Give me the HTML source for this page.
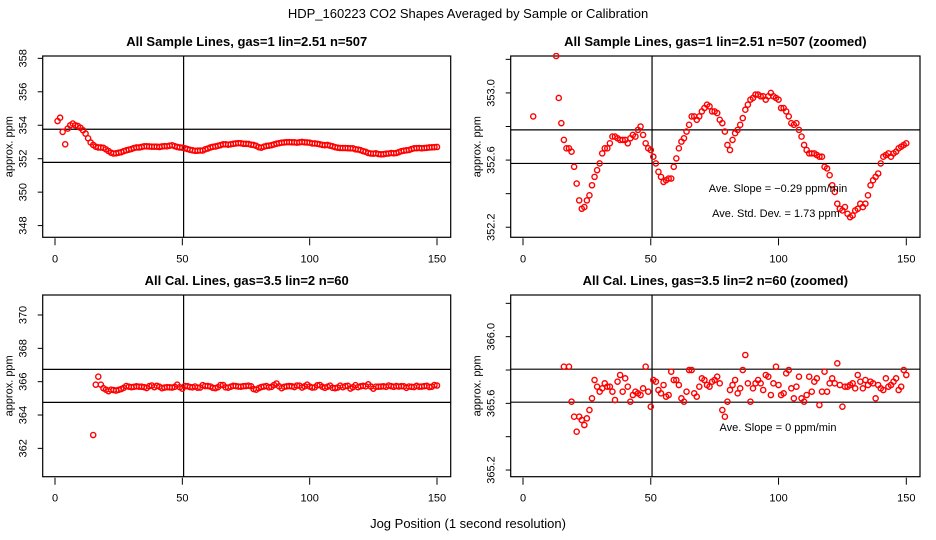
<!DOCTYPE html>
<html><head><meta charset="utf-8">
<style>
html,body{margin:0;padding:0;background:#fff;width:936px;height:540px;overflow:hidden;}
svg{display:block;font-family:"Liberation Sans",sans-serif;}
</style></head>
<body>
<svg id="chart" width="936" height="540" viewBox="0 0 936 540" xmlns="http://www.w3.org/2000/svg">
<rect x="0" y="0" width="936" height="540" fill="#fff"/>
<text x="468" y="18" text-anchor="middle" font-size="13">HDP_160223  CO2 Shapes Averaged by Sample or Calibration</text>
<text x="468" y="528" text-anchor="middle" font-size="13">Jog Position (1 second resolution)</text>
</svg>
<script>
// ---- data ----
const sampleX = [];
for (let i = 1; i <= 150; i++) sampleX.push(i);
const sampleY = [354.25,354.45,353.6,352.86,353.8,354.0,354.1,354.0,353.95,353.85,353.7,353.5,353.22,352.97,352.82,352.72,352.67,352.67,352.65,352.56,
352.46,352.36,352.31,352.32,352.36,352.39,352.45,352.5,352.54,352.58,352.64,352.67,352.67,352.7,352.74,352.74,352.73,352.72,352.72,352.72,
352.7,352.73,352.75,352.74,352.78,352.8,352.75,352.7,352.67,352.66,352.62,352.58,352.53,352.5,352.47,352.48,352.49,352.49,352.56,352.61,
352.67,352.71,352.73,352.77,352.81,352.86,352.86,352.84,352.86,352.89,352.91,352.93,352.92,352.89,352.89,352.88,352.84,352.82,352.77,352.69,
352.66,352.72,352.76,352.78,352.81,352.85,352.9,352.93,352.96,352.97,352.99,352.99,352.98,352.98,352.96,352.98,353.0,352.98,352.97,352.96,
352.91,352.91,352.89,352.86,352.82,352.81,352.82,352.78,352.74,352.69,352.66,352.64,352.64,352.64,352.63,352.62,352.62,352.56,352.55,352.51,
352.45,352.41,352.34,352.31,352.3,352.32,352.28,352.26,352.27,352.3,352.31,352.34,352.32,352.34,352.39,352.45,352.48,352.5,352.52,352.58,
352.62,352.63,352.64,352.62,352.64,352.65,352.67,352.68,352.69,352.7];
const calX = [];
for (let i = 15; i <= 150; i++) calX.push(i);
const calY = [362.8,365.82,366.3,365.82,365.61,365.52,365.43,365.52,365.5,365.47,365.51,365.56,365.63,365.74,365.7,365.67,365.69,365.72,365.7,365.7,
365.67,365.62,365.73,365.77,365.67,365.75,365.7,365.61,365.65,365.67,365.66,365.65,365.69,365.82,365.67,365.58,365.74,365.73,365.68,365.66,
365.71,365.64,365.65,365.79,365.74,365.74,365.71,365.63,365.61,365.67,365.8,365.8,365.66,365.64,365.7,365.75,365.74,365.71,365.7,365.73,
365.74,365.76,365.72,365.56,365.52,365.61,365.68,365.71,365.74,365.66,365.69,365.8,365.89,365.72,365.61,365.69,365.72,365.74,365.72,365.68,
365.77,365.76,365.65,365.72,365.82,365.71,365.65,365.66,365.78,365.8,365.69,365.63,365.7,365.76,365.63,365.61,365.65,365.76,365.67,365.73,
365.75,365.59,365.67,365.79,365.67,365.72,365.75,365.72,365.84,365.71,365.58,365.7,365.7,365.71,365.72,365.69,365.77,365.73,365.69,365.74,
365.71,365.73,365.72,365.63,365.71,365.69,365.68,365.75,365.7,365.71,365.73,365.75,365.68,365.7,365.8,365.77];
const xTicks = [0, 50, 100, 150];
const p1Ticks = [348, 350, 352, 354, 356, 358];
const p2Ticks = [352.2, 352.4, 352.6, 352.8, 353.0, 353.2];
const p2Labels = [352.2, 352.6, 353.0];
const p3Ticks = [362, 364, 366, 368, 370];
const p4Ticks = [365.2, 365.4, 365.6, 365.8, 366.0, 366.2];
const p4Labels = [365.2, 365.6, 366.0];
const p1HLines = [353.76, 351.78];
const p2HLines = [352.78, 352.58];
const p3HLines = [366.74, 364.76];
const p4HLines = [365.805, 365.607];
const vLine = 50.5;

const NS = 'http://www.w3.org/2000/svg';
const svg = document.getElementById('chart');
function mk(tag, attrs, parent) {
  const e = document.createElementNS(NS, tag);
  for (const k in attrs) e.setAttribute(k, attrs[k]);
  (parent || svg).appendChild(e);
  return e;
}

const panels = [
  {id:'p1', title:'All Sample Lines, gas=1 lin=2.51 n=507', L:42.7, R:450.7, T:56, B:237.3,
   ymin:347.3, ymax:358.14, ticks:p1Ticks, labels:p1Ticks, fmt:v=>String(v), h:p1HLines, xs:sampleX, ys:sampleY, txt:[]},
  {id:'p2', title:'All Sample Lines, gas=1 lin=2.51 n=507 (zoomed)', L:510.7, R:920, T:56, B:237.3,
   ymin:352.14, ymax:353.22, ticks:p2Ticks, labels:p2Labels, fmt:v=>v.toFixed(1), h:p2HLines, xs:sampleX, ys:sampleY,
   txt:[['Ave. Slope =  \u22120.29  ppm/min',778,192],['Ave. Std. Dev. =  1.73  ppm',776,217]]},
  {id:'p3', title:'All Cal. Lines, gas=3.5 lin=2 n=60', L:42.7, R:450.7, T:295, B:476.7,
   ymin:360.3, ymax:371.2, ticks:p3Ticks, labels:p3Ticks, fmt:v=>String(v), h:p3HLines, xs:calX, ys:calY, txt:[]},
  {id:'p4', title:'All Cal. Lines, gas=3.5 lin=2 n=60 (zoomed)', L:510.7, R:920, T:295, B:476.7,
   ymin:365.16, ymax:366.25, ticks:p4Ticks, labels:p4Labels, fmt:v=>v.toFixed(1), h:p4HLines, xs:calX, ys:calY,
   txt:[['Ave. Slope =  0  ppm/min',778,431]]}
];

panels.forEach(p => {
  const x0 = p.L + 12.3, x150 = p.R - 13.7;
  const sx = v => x0 + (x150 - x0) * v / 150;
  const sy = v => p.B - (v - p.ymin) / (p.ymax - p.ymin) * (p.B - p.T);
  const g = mk('g', {});
  
  
  const clipId = 'clip-' + p.id;
  const cp = mk('clipPath', {id: clipId}, g);
  mk('rect', {x: p.L - 3, y: p.T - 3, width: p.R - p.L + 6, height: p.B - p.T + 6}, cp);

  const t = mk('text', {x: (p.L + p.R) / 2, y: p.T - 10, 'text-anchor': 'middle', 'font-size': 13, 'font-weight': 'bold'}, g);
  t.textContent = p.title;
  
  

  const yl = mk('text', {x: 0, y: 0, 'text-anchor': 'middle', 'font-size': 11, transform: 'translate(' + (p.L - 30) + ',' + ((p.T + p.B) / 2) + ') rotate(-90)'}, g);
  yl.textContent = 'approx. ppm';
  
  

  p.ticks.forEach(v => {
    const y = sy(v);
    const tk = mk('line', {x1: p.L - 5, x2: p.L, y1: y, y2: y, stroke: '#000', 'stroke-width': 1}, g);
    
    
  });
  p.labels.forEach(v => {
    const y = sy(v);
    const lb = mk('text', {x: 0, y: 0, 'text-anchor': 'middle', 'font-size': 11, transform: 'translate(' + (p.L - 16) + ',' + y + ') rotate(-90)'}, g);
    lb.textContent = p.fmt(v);
    
    
  });
  xTicks.forEach(v => {
    const x = sx(v);
    const tk = mk('line', {x1: x, x2: x, y1: p.B + 1, y2: p.B + 8, stroke: '#000', 'stroke-width': 1}, g);
    
    
    const lb = mk('text', {x: x, y: p.B + 25, 'text-anchor': 'middle', 'font-size': 11}, g);
    lb.textContent = String(v);
    
    
  });

  const box = mk('rect', {x: p.L, y: p.T, width: p.R - p.L, height: p.B - p.T, fill: 'none', stroke: '#000', 'stroke-width': 1.2}, g);
  
  

  p.h.forEach(v => {
    const hl = mk('line', {x1: p.L, x2: p.R, y1: sy(v), y2: sy(v), stroke: '#000', 'stroke-width': 1.2}, g);
    
    
  });
  const vl = mk('line', {x1: sx(vLine), x2: sx(vLine), y1: p.T, y2: p.B, stroke: '#000', 'stroke-width': 1.2}, g);
  
  

  const pts = mk('g', {'clip-path': 'url(#' + clipId + ')'}, g);
  
  
  p.xs.forEach((xv, i) => {
    const c = mk('circle', {cx: sx(xv), cy: sy(p.ys[i]), r: 2.6, fill: 'none', stroke: '#f00', 'stroke-width': 1.4}, pts);
    
    
  });

  p.txt.forEach(a => {
    const tx = mk('text', {x: a[1], y: a[2], 'text-anchor': 'middle', 'font-size': 11}, g);
    tx.textContent = a[0];
    
    
  });
});
</script>
</body></html>
